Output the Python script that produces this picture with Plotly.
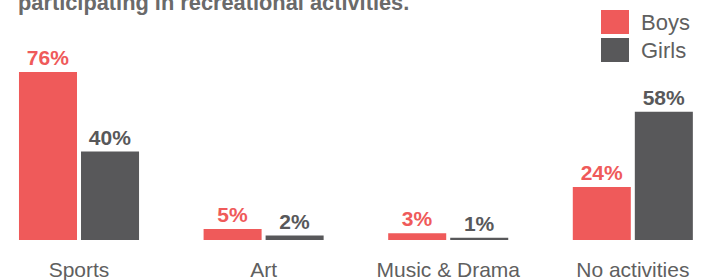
import plotly.graph_objects as go

categories = ["Sports", "Art", "Music & Drama", "No activities"]
boys = [76, 5, 3, 24]
girls = [40, 2, 1, 58]
series_names = ["Boys", "Girls"]
title_text = "participating in recreational activities."

RED = "#EF5A5A"
GRAY = "#58585A"
TXT = "#5f5f5f"
FONT = "Liberation Sans, Arial, sans-serif"

W, H = 705, 280
PLOT_H = 240

fig = go.Figure()
for name, vals, col in [(series_names[0], boys, RED), (series_names[1], girls, GRAY)]:
    fig.add_trace(go.Bar(
        x=categories, y=vals, name=name, marker=dict(color=col, line=dict(width=0)),
        text=[f"{v}%" for v in vals], textposition="outside", constraintext="none",
        textfont=dict(family=FONT, size=21, color=col, weight="bold"),
        cliponaxis=False, hoverinfo="skip"))

# legend drawn as shapes + text
for i, (name, col) in enumerate([(series_names[0], RED), (series_names[1], GRAY)]):
    top = 10 + 28 * i
    fig.add_shape(type="rect", xref="paper", yref="paper",
                  x0=601 / W, x1=629 / W, y0=1 - (top + 24) / PLOT_H, y1=1 - top / PLOT_H,
                  fillcolor=col, line=dict(width=0))
    fig.add_annotation(xref="paper", yref="paper", x=639 / W, y=1 - (top + 12.5) / PLOT_H,
                       xanchor="left", yanchor="middle", text=name, showarrow=False,
                       font=dict(family=FONT, size=22, color=TXT))

fig.add_annotation(xref="paper", yref="paper", x=16 / W, y=1 - 2.5 / PLOT_H,
                   xanchor="left", yanchor="middle", text=f"<b>{title_text}</b>",
                   showarrow=False, font=dict(family=FONT, size=21.8, color="#6a6a6a"))

fig.update_layout(
    width=W, height=H, margin=dict(l=0, r=0, t=0, b=H - PLOT_H, pad=0),
    paper_bgcolor="white", plot_bgcolor="white",
    barmode="group", bargap=0.328, bargroupgap=0.0645,
    showlegend=False,
    xaxis=dict(range=[-0.428, 3.391], showgrid=False, zeroline=False, showline=False,
               ticks="", tickfont=dict(family=FONT, size=21, color=TXT),
               ticklabelstandoff=15, fixedrange=True),
    yaxis=dict(range=[0, PLOT_H / 2.21], visible=False, fixedrange=True),
)

fig.write_html("out.html", config={"displayModeBar": False},
               post_script="document.body.style.margin='0';")
